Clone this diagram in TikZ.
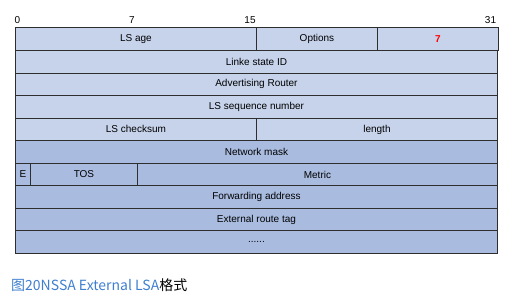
\documentclass[tikz,border=0pt]{standalone}
\usepackage{fontspec}
\setmainfont{Liberation Sans}
\newfontfamily\cjk{Noto Sans CJK SC}
\definecolor{hdrfill}{HTML}{C6D3EB}
\definecolor{bodyfill}{HTML}{A9BCE0}
\definecolor{edge}{HTML}{2E2E2E}
\definecolor{capblue}{HTML}{3F7FD0}
\definecolor{typered}{HTML}{FF0000}
\begin{document}
\begin{tikzpicture}[x=1pt,y=-1pt,
  field/.style={draw=edge, line width=0.9pt, anchor=north west, inner sep=0pt,
    minimum height=22.55pt, font=\fontsize{10}{12}\selectfont, text=black},
  upper/.style={field, fill=hdrfill},
  lower/.style={field, fill=bodyfill},
  bitnum/.style={inner sep=0pt, font=\fontsize{10}{12}\selectfont}]
\useasboundingbox (0,0) rectangle (516,299);
% bit positions across the 32-bit word
\node[bitnum] (b0)  at (17.5,20) {0};
\node[bitnum] (b7)  at (132,20) {7};
\node[bitnum] (b15) at (250,20) {15};
\node[bitnum] (b31) at (490.5,20) {31};
% LSA header
\node[upper, minimum width=241pt] (age) at (15,27.5) {LS age};
\node[upper, minimum width=121pt] (opt) at (256,27.5) {Options};
\node[upper, minimum width=121pt, text=typered, font=\fontsize{10}{12}\selectfont\bfseries] (type) at (377,27.5) {7};
\node[upper, minimum width=482pt] (lsid) at (15,50.05) {Linke state ID};
\node[upper, minimum width=482pt] (adv) at (15,72.6) {Advertising Router};
\node[upper, minimum width=482pt] (seq) at (15,95.15) {LS sequence number};
\node[upper, minimum width=241pt] (cks) at (15,117.7) {LS checksum};
\node[upper, minimum width=241pt] (len) at (256,117.7) {length};
% NSSA external body
\node[lower, minimum width=482pt] (mask) at (15,140.25) {Network mask};
\node[lower, minimum width=15pt] (ebit) at (15,162.8) {E};
\node[lower, minimum width=107pt] (tos) at (30,162.8) {TOS};
\node[lower, minimum width=360pt] (metric) at (137,162.8) {Metric};
\node[lower, minimum width=482pt] (fwd) at (15,185.35) {Forwarding address};
\node[lower, minimum width=482pt] (tag) at (15,207.9) {External route tag};
\node[lower, minimum width=482pt] (more) at (15,230.45) {......};
% caption
\node[anchor=west, inner sep=0pt, font=\cjk\fontsize{14}{16}\selectfont] (cap) at (11,285)
  {\textcolor{capblue}{图20NSSA External LSA}格式};
\end{tikzpicture}
\end{document}
